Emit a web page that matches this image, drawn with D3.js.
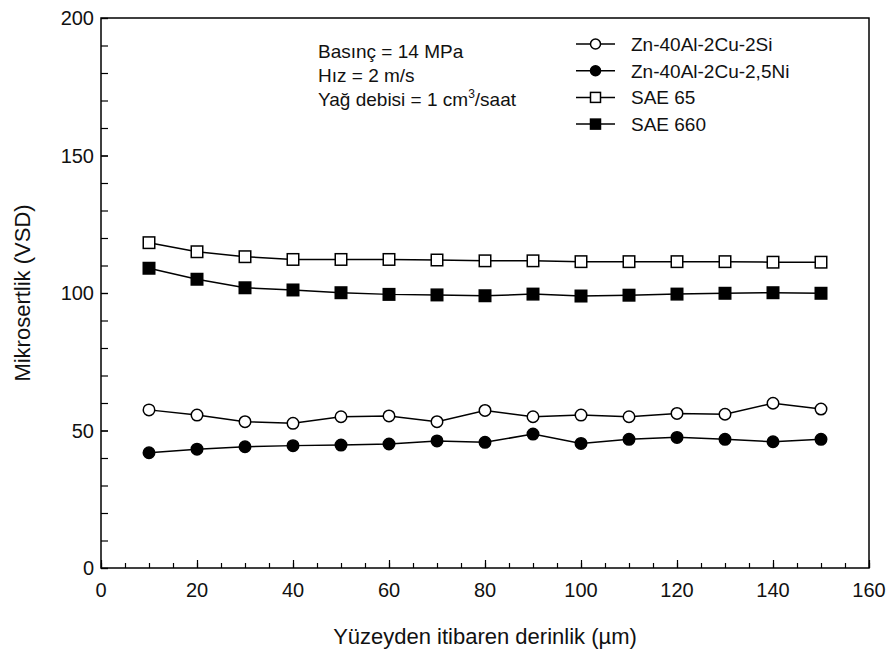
<!DOCTYPE html>
<html>
<head>
<meta charset="utf-8">
<script src="https://cdn.jsdelivr.net/npm/d3@7"></script>
<style>
  body { margin: 0; background: #fff; }
  svg { display: block; font-family: "Liberation Sans", Arial, sans-serif; }
</style>
</head>
<body>
<svg id="chart" width="891" height="659"></svg>
<script>
// Depth below the surface (µm)
const depths = [10, 20, 30, 40, 50, 60, 70, 80, 90, 100, 110, 120, 130, 140, 150];

// Microhardness (VSD) per material
const znSi = [57.5, 55.6, 53.2, 52.6, 55.0, 55.3, 53.2, 57.3, 55.0, 55.6, 55.0, 56.2, 55.9, 59.9, 57.8];
const znNi = [41.9, 43.2, 44.1, 44.5, 44.7, 45.1, 46.2, 45.7, 48.7, 45.3, 46.8, 47.5, 46.8, 45.9, 46.8];
const sae65 = [118.3, 115.0, 113.2, 112.2, 112.2, 112.2, 112.0, 111.7, 111.7, 111.4, 111.4, 111.4, 111.4, 111.2, 111.2];
const sae660 = [109.0, 105.0, 101.9, 101.1, 100.1, 99.5, 99.3, 99.0, 99.6, 98.9, 99.2, 99.6, 99.9, 100.1, 99.9];

const seriesNames = ["Zn-40Al-2Cu-2Si", "Zn-40Al-2Cu-2,5Ni", "SAE 65", "SAE 660"];
const xTicks = [0, 20, 40, 60, 80, 100, 120, 140, 160];
const yTicks = [0, 50, 100, 150, 200];
const conditions = ["Basınç = 14 MPa", "Hız = 2 m/s"];

const series = [
  { name: seriesNames[0], values: znSi, shape: "circle", fill: "#fff" },
  { name: seriesNames[1], values: znNi, shape: "circle", fill: "#000" },
  { name: seriesNames[2], values: sae65, shape: "square", fill: "#fff" },
  { name: seriesNames[3], values: sae660, shape: "square", fill: "#000" }
];

const svg = d3.select("#chart");
const m = { left: 101, right: 869, top: 18, bottom: 568 };

const x = d3.scaleLinear().domain([0, 160]).range([m.left, m.right]);
const y = d3.scaleLinear().domain([0, 200]).range([m.bottom, m.top]);

// Frame
svg.append("rect")
  .attr("x", m.left).attr("y", m.top)
  .attr("width", m.right - m.left).attr("height", m.bottom - m.top)
  .attr("fill", "none").attr("stroke", "#000").attr("stroke-width", 1.5);

// Inward ticks: minor first, then major
const xMinor = d3.axisTop(x).tickValues(d3.range(0, 161, 5)).tickSize(5).tickFormat("");
const xMajor = d3.axisTop(x).tickValues(xTicks).tickSize(8).tickFormat("");
const yMinor = d3.axisRight(y).tickValues(d3.range(0, 201, 10)).tickSize(7).tickFormat("");
const yMajor = d3.axisRight(y).tickValues(yTicks).tickSize(7).tickFormat("");

[xMinor, xMajor].forEach(ax => {
  const g = svg.append("g").attr("transform", `translate(0,${m.bottom})`).call(ax);
  g.select(".domain").remove();
  g.selectAll("line").attr("stroke", "#000").attr("stroke-width", 1.2);
});
[yMinor, yMajor].forEach(ax => {
  const g = svg.append("g").attr("transform", `translate(${m.left},0)`).call(ax);
  g.select(".domain").remove();
  g.selectAll("line").attr("stroke", "#000").attr("stroke-width", 1.2);
});

// Tick labels
svg.append("g").selectAll("text").data(xTicks).join("text")
  .attr("x", d => x(d)).attr("y", m.bottom + 29)
  .attr("text-anchor", "middle").attr("font-size", 20).attr("fill", "#111")
  .text(d => d);
svg.append("g").selectAll("text").data(yTicks).join("text")
  .attr("x", m.left - 7).attr("y", d => y(d) + 7)
  .attr("text-anchor", "end").attr("font-size", 20).attr("fill", "#111")
  .text(d => d);

// Axis titles
svg.append("text")
  .attr("x", (m.left + m.right) / 2).attr("y", 644)
  .attr("text-anchor", "middle").attr("font-size", 22).attr("fill", "#111")
  .text("Yüzeyden itibaren derinlik (µm)");
svg.append("text")
  .attr("transform", `translate(30,${(m.top + m.bottom) / 2}) rotate(-90)`)
  .attr("text-anchor", "middle").attr("font-size", 22).attr("fill", "#111")
  .text("Mikrosertlik (VSD)");

// Lines and markers
const line = d3.line().x((d, i) => x(depths[i])).y(d => y(d));

function drawMarker(g, shape, fill, size) {
  if (shape === "circle") {
    g.append("circle").attr("r", size / 2)
      .attr("fill", fill).attr("stroke", "#000").attr("stroke-width", 1.5);
  } else {
    g.append("rect").attr("x", -size / 2).attr("y", -size / 2)
      .attr("width", size).attr("height", size)
      .attr("fill", fill).attr("stroke", "#000").attr("stroke-width", 1.5);
  }
}

series.forEach(s => {
  svg.append("path").datum(s.values)
    .attr("d", line).attr("fill", "none")
    .attr("stroke", "#000").attr("stroke-width", 1.5);
  s.values.forEach((v, i) => {
    const g = svg.append("g").attr("transform", `translate(${x(depths[i])},${y(v)})`);
    drawMarker(g, s.shape, s.fill, 11.5);
  });
});

// Test conditions
const cond = svg.append("g").attr("font-size", 19).attr("fill", "#111");
conditions.forEach((t, i) => {
  cond.append("text").attr("x", 318).attr("y", 58 + i * 24).text(t);
});
const t3 = cond.append("text").attr("x", 318).attr("y", 106);
t3.append("tspan").text("Yağ debisi = 1 cm");
t3.append("tspan").attr("dy", -8).attr("font-size", 12).text("3");
t3.append("tspan").attr("dy", 8).text("/saat");

// Legend
const legend = svg.append("g");
series.forEach((s, i) => {
  const cy = 44 + i * 26.7;
  const row = legend.append("g").attr("transform", `translate(0,${cy})`);
  row.append("line").attr("x1", 576).attr("x2", 615)
    .attr("stroke", "#000").attr("stroke-width", 1.5);
  drawMarker(row.append("g").attr("transform", "translate(595.5,0)"), s.shape, s.fill, 10);
  row.append("text").attr("x", 631).attr("y", 7)
    .attr("font-size", 19).attr("fill", "#111").text(s.name);
});
</script>
</body>
</html>
